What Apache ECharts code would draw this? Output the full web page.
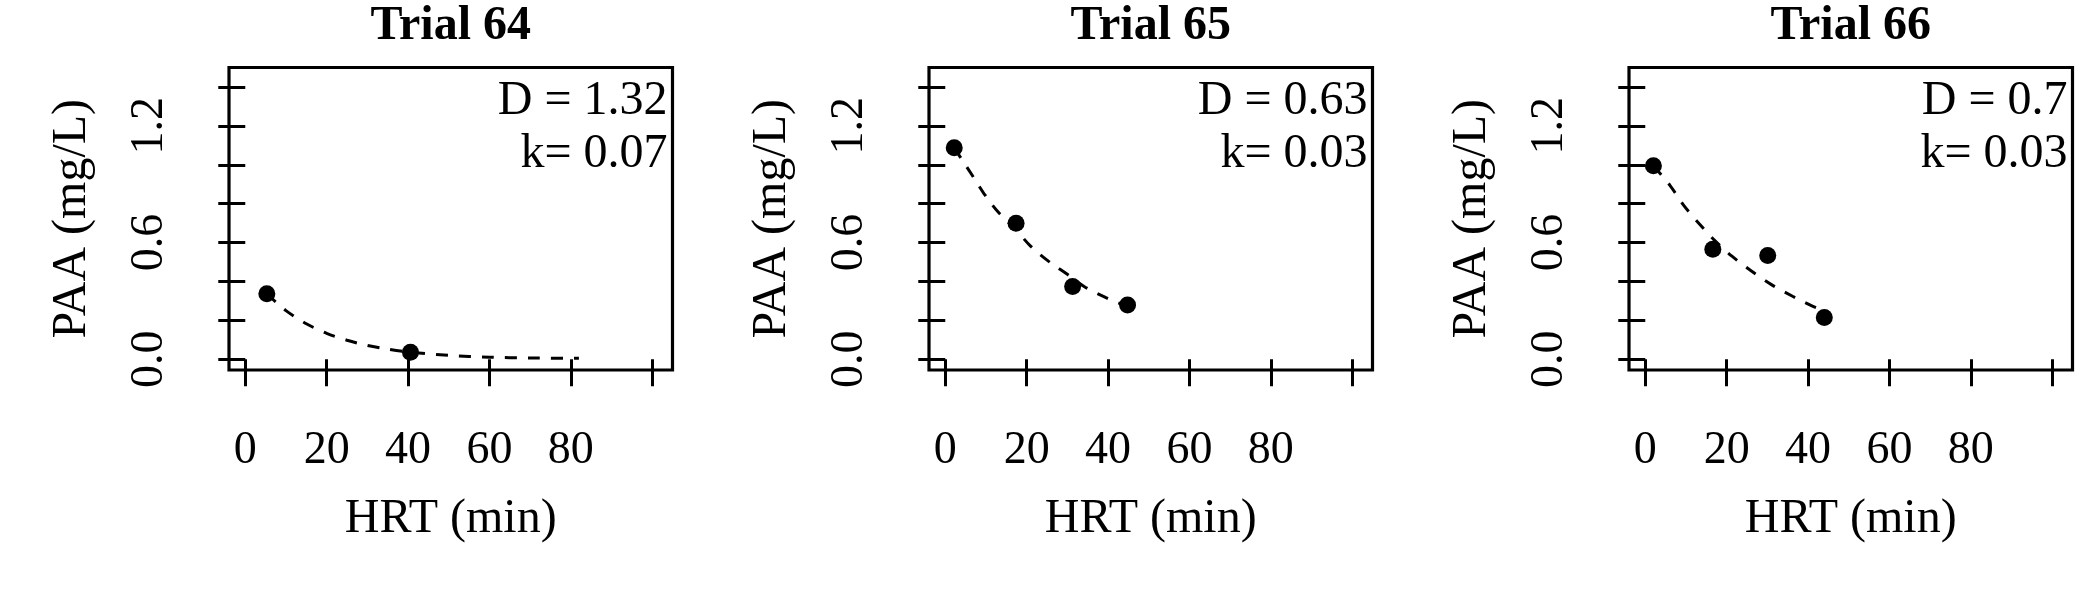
<!DOCTYPE html>
<html>
<head>
<meta charset="utf-8">
<script src="https://cdn.jsdelivr.net/npm/echarts@6/dist/echarts.min.js"></script>
<style>
  html, body { margin: 0; padding: 0; background: #fff; }
  #main { width: 2100px; height: 600px; }
</style>
</head>
<body>
<div id="main"></div>
<script>
// panel titles and fitted parameters
var trialNames = ['Trial 64', 'Trial 65', 'Trial 66'];
var dValues = ['1.32', '0.63', '0.7'];
var kValues = ['0.07', '0.03', '0.03'];

// measured points (HRT in min, PAA in mg/L)
var hrt64 = [5.3, 40.6];
var paa64 = [0.337, 0.036];
var hrt65 = [2.2, 17.4, 31.3, 44.8];
var paa65 = [1.087, 0.699, 0.374, 0.279];
var hrt66 = [2.0, 16.6, 30.1, 44.0];
var paa66 = [0.995, 0.566, 0.533, 0.215];

// dashed fit curves
var fitX64 = [5.3, 10, 15, 20, 25, 30, 35, 40, 50, 60, 70, 82];
var fitY64 = [0.337, 0.25, 0.183, 0.133, 0.098, 0.071, 0.052, 0.038, 0.02, 0.011, 0.007, 0.005];
var fitX65 = [2.2, 6.5, 9.5, 13, 17.4, 20.9, 25.5, 29.9, 34.3, 39.5, 44.8];
var fitY65 = [1.087, 0.95, 0.852, 0.757, 0.665, 0.583, 0.502, 0.438, 0.372, 0.317, 0.27];
var fitX66 = [2.0, 6.1, 9.5, 13.2, 17.1, 21.3, 26, 31, 36.2, 41.2, 44.0];
var fitY66 = [0.995, 0.893, 0.79, 0.698, 0.61, 0.53, 0.455, 0.384, 0.324, 0.272, 0.25];

// axis ticks
var xTicks = [0, 20, 40, 60, 80, 100];
var xTickLabels = [0, 20, 40, 60, 80];
var yTicks = [0, 0.2, 0.4, 0.6, 0.8, 1.0, 1.2, 1.4];
var yTickLabels = [0, 0.6, 1.2];

var pointsX = [hrt64, hrt65, hrt66];
var pointsY = [paa64, paa65, paa66];
var curvesX = [fitX64, fitX65, fitX66];
var curvesY = [fitY64, fitY65, fitY66];

var FONT = '"Liberation Serif", "Times New Roman", serif';
var gridLeft = [229, 929, 1629];
var gridTop = 67.5, gridW = 443.5, gridH = 302.5;

function pairs(xs, ys) {
    return xs.map(function (x, i) { return [x, ys[i]]; });
}

var grids = [], xAxes = [], yAxes = [], series = [], graphics = [];

for (var p = 0; p < 3; p++) {
    grids.push({
        left: gridLeft[p], top: gridTop, width: gridW, height: gridH,
        show: true, borderColor: '#000', borderWidth: 3.2,
        backgroundColor: 'transparent', containLabel: false
    });
    xAxes.push({
        gridIndex: p, type: 'value', min: -4, max: 105,
        name: 'HRT (min)', nameLocation: 'middle', nameGap: 125,
        nameTextStyle: { fontFamily: FONT, fontSize: 48, color: '#000' },
        axisLine: { show: false },
        axisTick: { show: true, length: 27, customValues: xTicks,
                    lineStyle: { color: '#000', width: 3 } },
        axisLabel: { show: true, customValues: xTickLabels, margin: 58,
                     fontFamily: FONT, fontSize: 46, color: '#000' },
        splitLine: { show: false }
    });
    yAxes.push({
        gridIndex: p, type: 'value', min: -0.055, max: 1.5,
        name: 'PAA (mg/L)', nameLocation: 'middle', nameGap: 133, nameRotate: 90,
        nameTextStyle: { fontFamily: FONT, fontSize: 48, color: '#000' },
        axisLine: { show: false },
        axisTick: { show: true, length: 27, customValues: yTicks,
                    lineStyle: { color: '#000', width: 3 } },
        axisLabel: { show: true, customValues: yTickLabels, rotate: 90, margin: 56,
                     fontFamily: FONT, fontSize: 46, color: '#000',
                     formatter: function (v) { return v.toFixed(1); } },
        splitLine: { show: false }
    });
    series.push({
        type: 'line', xAxisIndex: p, yAxisIndex: p,
        data: pairs(curvesX[p], curvesY[p]),
        smooth: 0.3, showSymbol: false, symbol: 'none',
        lineStyle: { color: '#000', width: 3, type: [12, 11], opacity: 1 },
        z: 2, silent: true
    });
    series.push({
        type: 'scatter', xAxisIndex: p, yAxisIndex: p,
        data: pairs(pointsX[p], pointsY[p]),
        symbol: 'circle', symbolSize: 17,
        itemStyle: { color: '#000', opacity: 1 }, z: 3
    });

    var boxRight = gridLeft[p] + gridW;
    graphics.push({
        type: 'text', x: gridLeft[p] + gridW / 2, y: 27,
        style: { text: trialNames[p], font: 'bold 48px ' + FONT, fill: '#000',
                 align: 'center', verticalAlign: 'middle' }
    });
    graphics.push({
        type: 'text', x: boxRight - 5, y: 101,
        style: { text: 'D = ' + dValues[p], font: '48px ' + FONT, fill: '#000',
                 align: 'right', verticalAlign: 'middle' }
    });
    graphics.push({
        type: 'text', x: boxRight - 5, y: 154,
        style: { text: 'k= ' + kValues[p], font: '48px ' + FONT, fill: '#000',
                 align: 'right', verticalAlign: 'middle' }
    });
}

var chart = echarts.init(document.getElementById('main'), null, { renderer: 'canvas' });
chart.setOption({
    animation: false,
    backgroundColor: '#fff',
    grid: grids,
    xAxis: xAxes,
    yAxis: yAxes,
    series: series,
    graphic: graphics
});
</script>
</body>
</html>
